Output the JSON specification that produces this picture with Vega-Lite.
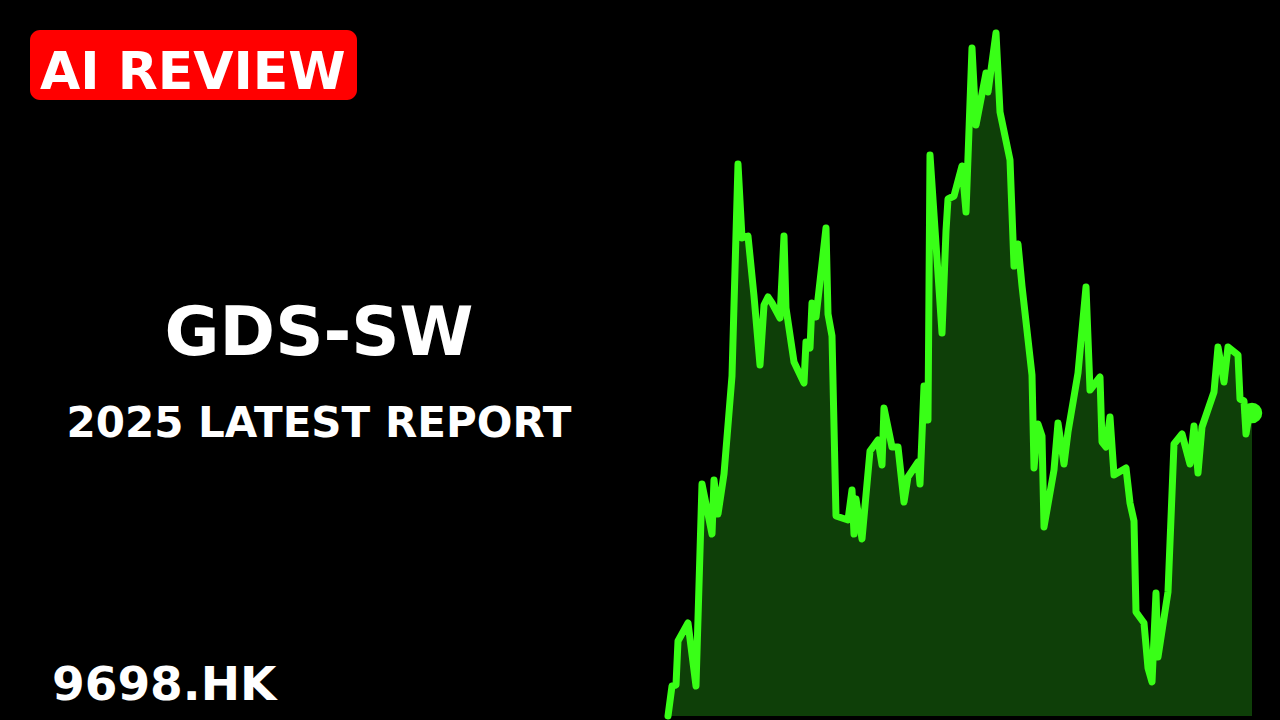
{
  "$schema": "https://vega.github.io/schema/vega-lite/v6.json",
  "autosize": {"type": "fit", "contains": "padding"},
  "width": 1280,
  "height": 720,
  "padding": 0,
  "background": "#000000",
  "config": {"view": {"stroke": null}},
  "datasets": {
    "price": [
      {"day": 0, "price": 12.0}, {"day": 2, "price": 13.2}, {"day": 4, "price": 13.24}, {"day": 5, "price": 15.0},
      {"day": 10, "price": 15.72}, {"day": 14, "price": 13.2}, {"day": 17, "price": 21.28}, {"day": 22, "price": 19.28},
      {"day": 23, "price": 21.44}, {"day": 25, "price": 20.08}, {"day": 28, "price": 21.68}, {"day": 32, "price": 25.6},
      {"day": 35, "price": 34.08}, {"day": 37, "price": 31.12}, {"day": 40, "price": 31.2}, {"day": 43, "price": 28.8},
      {"day": 46, "price": 26.04}, {"day": 48, "price": 28.44}, {"day": 50, "price": 28.76}, {"day": 52, "price": 28.52},
      {"day": 56, "price": 27.92}, {"day": 58, "price": 31.2}, {"day": 59, "price": 28.32}, {"day": 63, "price": 26.16},
      {"day": 68, "price": 25.32}, {"day": 69, "price": 26.96}, {"day": 71, "price": 26.72}, {"day": 72, "price": 28.52},
      {"day": 74, "price": 27.96}, {"day": 79, "price": 31.52}, {"day": 80, "price": 28.08}, {"day": 82, "price": 27.2},
      {"day": 84, "price": 20.0}, {"day": 90, "price": 19.84}, {"day": 92, "price": 21.04}, {"day": 93, "price": 19.28},
      {"day": 94, "price": 20.68}, {"day": 97, "price": 19.08}, {"day": 101, "price": 22.6}, {"day": 105, "price": 23.04},
      {"day": 107, "price": 22.04}, {"day": 108, "price": 24.32}, {"day": 112, "price": 22.76}, {"day": 115, "price": 22.76},
      {"day": 118, "price": 20.56}, {"day": 120, "price": 21.56}, {"day": 125, "price": 22.16}, {"day": 126, "price": 21.28},
      {"day": 128, "price": 25.2}, {"day": 130, "price": 23.84}, {"day": 131, "price": 34.44}, {"day": 137, "price": 27.32},
      {"day": 139, "price": 31.4}, {"day": 140, "price": 32.68}, {"day": 143, "price": 32.8}, {"day": 147, "price": 34.0},
      {"day": 149, "price": 32.16}, {"day": 152, "price": 38.72}, {"day": 154, "price": 35.64}, {"day": 159, "price": 37.72},
      {"day": 160, "price": 36.96}, {"day": 164, "price": 39.32}, {"day": 166, "price": 36.16}, {"day": 171, "price": 34.24},
      {"day": 173, "price": 30.0}, {"day": 175, "price": 30.88}, {"day": 177, "price": 29.2}, {"day": 182, "price": 25.64},
      {"day": 183, "price": 21.92}, {"day": 185, "price": 23.68}, {"day": 187, "price": 23.2}, {"day": 188, "price": 19.56},
      {"day": 193, "price": 21.84}, {"day": 195, "price": 23.72}, {"day": 198, "price": 22.08}, {"day": 200, "price": 23.36},
      {"day": 205, "price": 25.72}, {"day": 209, "price": 29.16}, {"day": 211, "price": 25.04}, {"day": 216, "price": 25.56},
      {"day": 217, "price": 22.96}, {"day": 219, "price": 22.76}, {"day": 221, "price": 23.96}, {"day": 223, "price": 21.64},
      {"day": 229, "price": 21.92}, {"day": 231, "price": 20.52}, {"day": 233, "price": 19.8}, {"day": 234, "price": 16.16},
      {"day": 238, "price": 15.72}, {"day": 240, "price": 13.92}, {"day": 242, "price": 13.36}, {"day": 244, "price": 16.92},
      {"day": 245, "price": 14.36}, {"day": 250, "price": 16.96}, {"day": 253, "price": 22.88}, {"day": 257, "price": 23.28},
      {"day": 261, "price": 22.08}, {"day": 263, "price": 23.6}, {"day": 265, "price": 21.72}, {"day": 267, "price": 23.56},
      {"day": 273, "price": 24.96}, {"day": 275, "price": 26.76}, {"day": 278, "price": 25.36}, {"day": 280, "price": 26.76},
      {"day": 285, "price": 26.44}, {"day": 286, "price": 24.68}, {"day": 288, "price": 24.6}, {"day": 289, "price": 23.28},
      {"day": 291, "price": 24.24}, {"day": 292, "price": 24.12}
    ]
  },
  "layer": [
    {
      "data": {"name": "price"},
      "mark": {"type": "area", "color": "#0e3f08", "interpolate": "linear"},
      "encoding": {
        "x": {"field": "day", "type": "quantitative", "scale": {"domain": [-334, 306], "nice": false, "zero": false}, "axis": null},
        "y": {"field": "price", "type": "quantitative", "scale": {"domain": [11.84, 40.64], "nice": false, "zero": false}, "axis": null},
        "y2": {"datum": 12}
      }
    },
    {
      "data": {"name": "price"},
      "mark": {"type": "line", "color": "#39ff17", "strokeWidth": 7, "strokeJoin": "round", "strokeCap": "round"},
      "encoding": {
        "x": {"field": "day", "type": "quantitative"},
        "y": {"field": "price", "type": "quantitative"}
      }
    },
    {
      "data": {"name": "price"},
      "transform": [{"filter": "datum.day == 292"}],
      "mark": {"type": "point", "filled": true, "color": "#39ff17", "opacity": 1, "size": 420},
      "encoding": {
        "x": {"field": "day", "type": "quantitative"},
        "y": {"field": "price", "type": "quantitative"}
      }
    },
    {
      "data": {"values": [{"badge": "AI REVIEW"}]},
      "mark": {"type": "rect", "color": "#ff0000", "cornerRadius": 10},
      "encoding": {
        "x": {"datum": -319, "type": "quantitative"},
        "x2": {"datum": -155.5},
        "y": {"datum": 39.44, "type": "quantitative"},
        "y2": {"datum": 36.64}
      }
    },
    {
      "data": {"values": [{"label": "AI REVIEW"}]},
      "mark": {"type": "text", "color": "#ffffff", "font": "DejaVu Sans", "fontWeight": "bold", "fontSize": 52, "align": "left", "baseline": "alphabetic"},
      "encoding": {
        "x": {"datum": -314, "type": "quantitative"},
        "y": {"datum": 37.08, "type": "quantitative"},
        "text": {"field": "label"}
      }
    },
    {
      "data": {"values": [{"label": "GDS-SW"}]},
      "mark": {"type": "text", "color": "#ffffff", "font": "DejaVu Sans", "fontWeight": "bold", "fontSize": 67, "align": "center", "baseline": "alphabetic"},
      "encoding": {
        "x": {"datum": -174.5, "type": "quantitative"},
        "y": {"datum": 26.44, "type": "quantitative"},
        "text": {"field": "label"}
      }
    },
    {
      "data": {"values": [{"label": "2025 LATEST REPORT"}]},
      "mark": {"type": "text", "color": "#ffffff", "font": "DejaVu Sans", "fontWeight": "bold", "fontSize": 42, "align": "center", "baseline": "alphabetic"},
      "encoding": {
        "x": {"datum": -174.5, "type": "quantitative"},
        "y": {"datum": 23.16, "type": "quantitative"},
        "text": {"field": "label"}
      }
    },
    {
      "data": {"values": [{"label": "9698.HK"}]},
      "mark": {"type": "text", "color": "#ffffff", "font": "DejaVu Sans", "fontWeight": "bold", "fontSize": 47, "align": "left", "baseline": "alphabetic"},
      "encoding": {
        "x": {"datum": -308, "type": "quantitative"},
        "y": {"datum": 12.64, "type": "quantitative"},
        "text": {"field": "label"}
      }
    }
  ]
}
